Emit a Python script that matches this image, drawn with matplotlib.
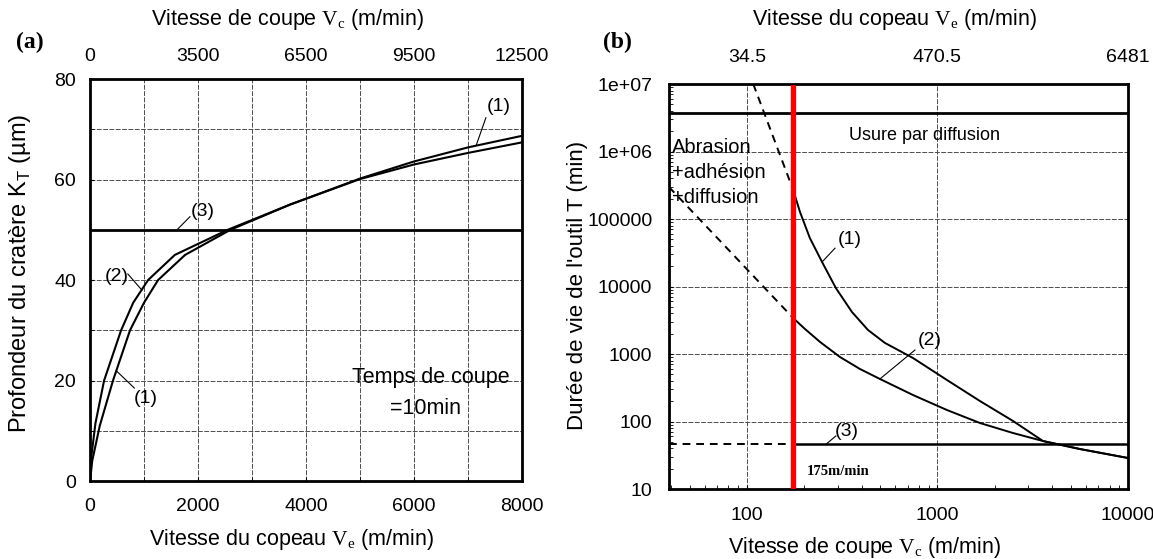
import numpy as np
import matplotlib.pyplot as plt
from matplotlib.ticker import FixedLocator, MultipleLocator, NullFormatter, LogLocator

plt.rcParams['font.family'] = ['Liberation Sans', 'DejaVu Sans']
plt.rcParams['mathtext.fontset'] = 'custom'
plt.rcParams['mathtext.rm'] = 'Liberation Serif'
plt.rcParams['mathtext.sf'] = 'Liberation Sans'

# ---- (a) profondeur du cratère KT en fonction de la vitesse du copeau ----
ve_1 = [0, 40, 180, 425, 740, 1000, 1260, 1760, 2600, 3700, 5000, 6000, 7000, 8000]
kt_1 = [0, 4, 11, 20, 30, 35.5, 40, 45, 50, 55, 60.2, 63.6, 66.4, 68.7]
ve_2 = [0, 25, 100, 260, 575, 800, 1075, 1570, 2550, 3700, 5000, 6000, 7000, 8000]
kt_2 = [0, 5, 11.5, 20, 30, 35.5, 40, 45, 50, 55, 60.1, 63.0, 65.3, 67.4]
kt_3 = 50
ve_ticks = [0, 2000, 4000, 6000, 8000]
vc_top_labels = ['0', '3500', '6500', '9500', '12500']

# ---- (b) durée de vie de l'outil T en fonction de la vitesse de coupe ----
vc_1 = [175, 190, 214, 248, 293, 356, 432, 530, 744, 1122, 1672, 2490, 3580, 5600, 10000]
t_1 = [2.69e5, 1.27e5, 5.23e4, 2.31e4, 9.5e3, 4.19e3, 2.27e3, 1.46e3, 873, 412, 201,
       102, 51.4, 39.1, 28.8]
vc_2 = [175, 202, 242, 308, 392, 499, 744, 1122, 1672, 2490, 3580, 5600, 10000]
t_2 = [3410, 2340, 1510, 903, 600, 427, 247, 148, 95, 67.6, 51.4, 39.1, 28.8]
vc_1_ext = [108, 175]
t_1_ext = [1e7, 2.69e5]
vc_2_ext = [39, 175]
t_2_ext = [2.98e5, 3410]
t_3 = 46
t_diffusion = 3.7e6
v_critique = 175
vc_ticks = [100, 1000, 10000]
ve_top_labels = ['34.5', '470.5', '6481']
t_ticks = [10, 100, 1000, 1e4, 1e5, 1e6, 1e7]
t_labels = ['10', '100', '1000', '10000', '100000', '1e+06', '1e+07']

fs = 14
fs_title = 15.5
grid_kw = dict(color='0.3', lw=0.7, ls=(0, (5, 1.5)))
dash = (0, (4, 3))

fig = plt.figure(figsize=(11.53, 5.59), dpi=100)

# ------------------------------ figure (a) ------------------------------
ax1 = fig.add_axes([0.0781, 0.1395, 0.3747, 0.7191])
ax1.plot(ve_1, kt_1, color='black', lw=1.5)
ax1.plot(ve_2, kt_2, color='black', lw=1.5)
ax1.axhline(kt_3, color='black', lw=2.0)
ax1.set_xlim(0, 8000)
ax1.set_ylim(0, 80)
ax1.xaxis.set_major_locator(FixedLocator(ve_ticks))
ax1.xaxis.set_minor_locator(MultipleLocator(1000))
ax1.yaxis.set_major_locator(MultipleLocator(20))
ax1.yaxis.set_minor_locator(MultipleLocator(10))
ax1.grid(True, which='both', **grid_kw)
ax1.tick_params(which='both', direction='in', labelsize=fs, length=3)
ax1.tick_params(axis='x', pad=12)
ax1.tick_params(axis='y', pad=10)
for sp in ax1.spines.values():
    sp.set_linewidth(2)

ax1t = ax1.twiny()
ax1t.set_xlim(ax1.get_xlim())
ax1t.set_xticks(ve_ticks)
ax1t.set_xticklabels(vc_top_labels)
ax1t.tick_params(direction='in', labelsize=fs, length=0, pad=10)

ax1.plot([7150, 7330], [66.8, 72.3], color='black', lw=0.8)
ax1.text(7560, 74.5, '(1)', fontsize=fs, ha='center', va='center')
ax1.plot([1610, 1850], [50, 52.6], color='black', lw=0.8)
ax1.text(2080, 53.6, '(3)', fontsize=fs, ha='center', va='center')
ax1.plot([700, 960], [41.2, 38.0], color='black', lw=0.8)
ax1.text(500, 40.7, '(2)', fontsize=fs, ha='center', va='center')
ax1.plot([820, 500], [18.5, 21.8], color='black', lw=0.8)
ax1.text(1040, 16.5, '(1)', fontsize=fs, ha='center', va='center')
ax1.text(6315, 20.7, 'Temps de coupe', fontsize=fs_title, ha='center', va='center')
ax1.text(6220, 14.5, '=10min', fontsize=fs_title, ha='center', va='center')

fig.text(288 / 1153, 1 - 20 / 559, r'Vitesse de coupe $\mathrm{V_c}$ (m/min)',
         fontsize=fs_title, ha='center', va='center')
fig.text(292 / 1153, 1 - 540 / 559, r'Vitesse du copeau $\mathrm{V_e}$ (m/min)',
         fontsize=fs_title, ha='center', va='center')
fig.text(20 / 1153, 1 - 273 / 559, r'Profondeur du cratère K$_\mathsf{T}$ (µm)',
         fontsize=17, ha='center', va='center', rotation=90)
fig.text(30 / 1153, 1 - 42 / 559, '(a)', fontsize=17, fontweight='bold',
         family='Liberation Serif', ha='center', va='center')

# ------------------------------ figure (b) ------------------------------
ax2 = fig.add_axes([0.5802, 0.1252, 0.3981, 0.7245])
ax2.set_xscale('log')
ax2.set_yscale('log')
ax2.plot(vc_1, t_1, color='black', lw=1.4)
ax2.plot(vc_2, t_2, color='black', lw=1.4)
ax2.plot(vc_1_ext, t_1_ext, color='black', lw=1.4, ls=dash)
ax2.plot(vc_2_ext, t_2_ext, color='black', lw=1.4, ls=dash)
ax2.plot([39, v_critique], [t_3, t_3], color='black', lw=1.4, ls=dash)
ax2.plot([v_critique, 10000], [t_3, t_3], color='black', lw=1.8)
ax2.axhline(t_diffusion, color='black', lw=2.0)
ax2.axvline(v_critique, color='#ff0000', lw=3.8, zorder=5)
ax2.set_xlim(39, 10000)
ax2.set_ylim(10, 1e7)
ax2.xaxis.set_major_locator(FixedLocator(vc_ticks))
ax2.xaxis.set_minor_locator(LogLocator(base=10, subs=np.arange(2, 10)))
ax2.xaxis.set_minor_formatter(NullFormatter())
ax2.yaxis.set_major_locator(FixedLocator(t_ticks))
ax2.set_yticklabels(t_labels)
ax2.yaxis.set_minor_locator(LogLocator(base=10, subs=np.arange(2, 10)))
ax2.yaxis.set_minor_formatter(NullFormatter())
ax2.set_xticklabels(['100', '1000', '10000'])
ax2.grid(True, which='major', **grid_kw)
ax2.tick_params(which='both', direction='in', labelsize=fs, length=3)
ax2.tick_params(axis='x', pad=13)
ax2.tick_params(axis='y', pad=12)
for sp in ax2.spines.values():
    sp.set_linewidth(2)

ax2t = ax2.twiny()
ax2t.set_xscale('log')
ax2t.set_xlim(ax2.get_xlim())
ax2t.xaxis.set_major_locator(FixedLocator(vc_ticks))
ax2t.xaxis.set_minor_locator(FixedLocator([]))
ax2t.set_xticklabels(ve_top_labels)
ax2t.tick_params(direction='in', labelsize=fs, length=0, pad=13)

ax2.text(40.5, 1.13e6, 'Abrasion', fontsize=14.5, ha='left', va='center')
ax2.text(40.5, 4.97e5, '+adhésion', fontsize=14.5, ha='left', va='center')
ax2.text(40.5, 2.1e5, '+diffusion', fontsize=14.5, ha='left', va='center')
ax2.text(860, 1.75e6, 'Usure par diffusion', fontsize=13, ha='center', va='center')
ax2.plot([248, 290], [2.31e4, 3.7e4], color='black', lw=0.8)
ax2.text(347, 4.9e4, '(1)', fontsize=fs, ha='center', va='center')
ax2.plot([499, 762], [427, 1146], color='black', lw=0.8)
ax2.text(912, 1610, '(2)', fontsize=fs, ha='center', va='center')
ax2.plot([260, 293], [t_3, 61], color='black', lw=0.8)
ax2.text(335, 70, '(3)', fontsize=fs, ha='center', va='center')
ax2.text(206, 17.9, '175m/min', fontsize=10.5, family='Liberation Serif',
         fontweight='bold', ha='left', va='center')

fig.text(895 / 1153, 1 - 20 / 559, r'Vitesse du copeau $\mathrm{V_e}$ (m/min)',
         fontsize=fs_title, ha='center', va='center')
fig.text(865 / 1153, 1 - 547 / 559, r'Vitesse de coupe $\mathrm{V_c}$ (m/min)',
         fontsize=fs_title, ha='center', va='center')
fig.text(578 / 1153, 1 - 285 / 559, "Durée de vie de l'outil T (min)",
         fontsize=16, ha='center', va='center', rotation=90)
fig.text(617 / 1153, 1 - 42 / 559, '(b)', fontsize=17, fontweight='bold',
         family='Liberation Serif', ha='center', va='center')

fig.savefig('out.png', dpi=100)
